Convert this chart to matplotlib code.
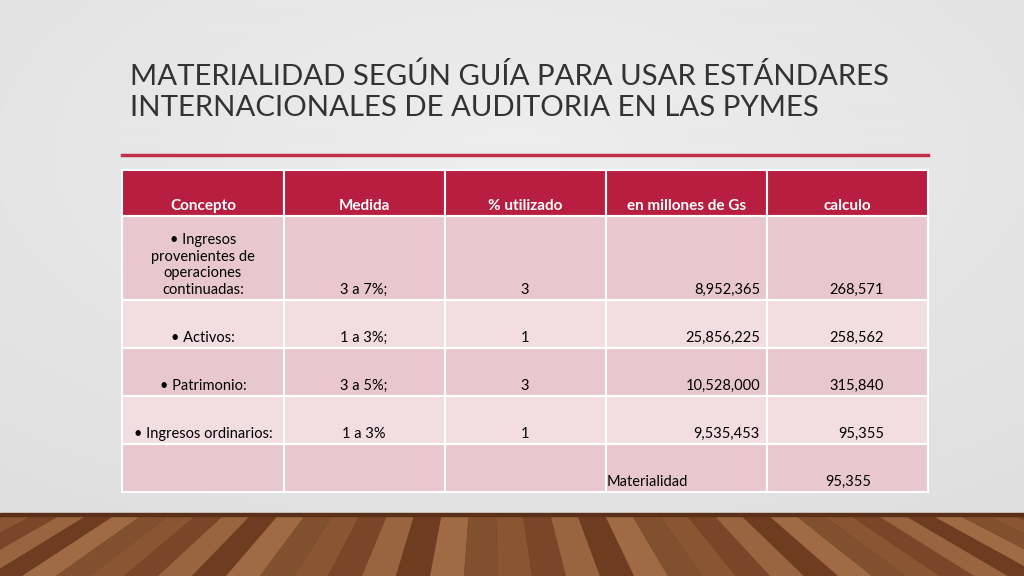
import matplotlib
matplotlib.use("Agg")
import matplotlib.pyplot as plt
from matplotlib.patches import Rectangle
import numpy as np

title_lines = ["MATERIALIDAD SEGÚN GUÍA PARA USAR ESTÁNDARES", "INTERNACIONALES DE AUDITORIA EN LAS PYMES"]
headers = ["Concepto", "Medida", "% utilizado", "en millones de Gs", "calculo"]
conceptos = ["• Ingresos\nprovenientes de\noperaciones\ncontinuadas:", "• Activos:", "• Patrimonio:", "• Ingresos ordinarios:", ""]
medidas = ["3 a 7%;", "1 a 3%;", "3 a 5%;", "1 a 3%", ""]
porcentajes = ["3", "1", "3", "1", ""]
millones = ["8,952,365", "25,856,225", "10,528,000", "9,535,453", "Materialidad"]
calculos = ["268,571", "258,562", "315,840", "95,355", "95,355"]

fig = plt.figure(figsize=(10.24, 5.76), dpi=100)
ax = fig.add_axes([0, 0, 1, 1])
ax.set_xlim(0, 1024); ax.set_ylim(576, 0); ax.axis("off")

g = np.linspace(0, 1, 256)
X, Y = np.meshgrid(g, g)
bg = 0.93 - 0.07 * np.sqrt((X - 0.5) ** 2 + (Y - 0.3) ** 2)
ax.imshow(bg, cmap="gray", vmin=0, vmax=1, extent=(0, 1024, 515, 0), aspect="auto", zorder=0)

ax.add_patch(Rectangle((0, 515), 1024, 61, color="#6b3d22", zorder=1))
wood = ["#8a5533", "#7a4528", "#9a6440", "#6e3c20", "#a06a45", "#80502f"]
xs = np.arange(-120, 1150, 34)
for i, x in enumerate(xs):
    c = wood[i % len(wood)]
    top_x = 512 + (x - 512) * 0.8
    ax.fill([top_x, top_x + 27, x + 40, x + 6], [515, 515, 576, 576], color=c, zorder=1, lw=0)
ax.add_patch(Rectangle((0, 513), 1024, 3, color="#5a3018", zorder=1))

for i, t in enumerate(title_lines):
    ax.text(130, 76 + i * 32, t, fontsize=21.2, family="Lato", color="#333333", va="center", ha="left")
ax.plot([122, 928], [155, 155], color="#C0304A", lw=2.5)

cols = [122, 284, 445, 606, 767, 928]
rows = [170, 216, 300, 348, 396, 444, 492]
red = "#B81E40"
fills = ["#E8C8CE", "#F2DEE2"]

for j in range(5):
    ax.add_patch(Rectangle((cols[j], rows[0]), cols[j+1]-cols[j], rows[1]-rows[0], fc=red, ec="white", lw=1.5, zorder=2))
    ax.text((cols[j]+cols[j+1])/2, rows[1]-3, headers[j], color="white", fontsize=11, fontweight="bold",
            family="Lato", ha="center", va="bottom", zorder=3)
for r in range(5):
    for j in range(5):
        ax.add_patch(Rectangle((cols[j], rows[r+1]), cols[j+1]-cols[j], rows[r+2]-rows[r+1],
                               fc=fills[r % 2], ec="white", lw=1.5, zorder=2))
    yb = rows[r+2] - 3
    kw = dict(fontsize=10.5, family="Lato", color="black", va="bottom", zorder=3)
    ax.text(203, yb, conceptos[r], ha="center", multialignment="center", linespacing=1.25, **kw)
    ax.text(364, yb, medidas[r], ha="center", **kw)
    ax.text(525, yb, porcentajes[r], ha="center", **kw)
    if r < 4:
        ax.text(760, yb, millones[r], ha="right", **kw)
        ax.text(884, yb, calculos[r], ha="right", **kw)
    else:
        ax.text(607, yb, millones[r], ha="left", **kw)
        ax.text(871, yb, calculos[r], ha="right", **kw)

fig.savefig("out.png", dpi=100)
